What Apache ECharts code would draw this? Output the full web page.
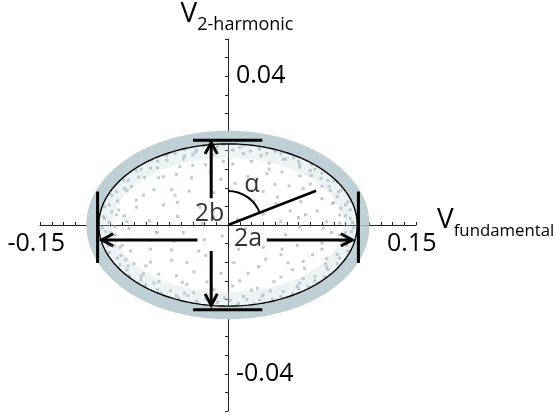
<!DOCTYPE html>
<html>
<head>
<meta charset="utf-8">
<script src="https://cdn.jsdelivr.net/npm/echarts@6/dist/echarts.min.js"></script>
<style>
  html, body { margin: 0; padding: 0; background: #ffffff; }
  #chart { width: 556px; height: 415px; }
</style>
</head>
<body>
<div id="chart"></div>
<script>
// Axis ranges and labelled tick values
const xRange = [-0.16, 0.16];
const yRange = [-0.05, 0.05];
const xTickStep = 0.01;
const yTickStep = 0.005;
const xLabelValues = [-0.15, 0.15];
const yLabelValues = [-0.04, 0.04];

// Fitted ellipse (semi-axes a, b), the dense outer rim of the measured cloud
// and the thinner band of points just inside it
const fitA = 0.110;
const fitB = 0.0218;
const rimA = 0.1150;
const rimB = 0.0236;
const innerA = 0.1060;
const innerB = 0.0205;

// Measured points inside the rim: x in units of 1e-3, y in units of 1e-4
const cloudScaled = [
  [104,18],[95,27],[84,9],[66,28],[45,9],
  [100,54],[89,58],[76,38],[53,38],
  [94,89],[87,93],[80,71],[62,63],[30,29],
  [85,120],[80,104],[64,98],[41,58],
  [74,150],[71,133],[61,132],[52,105],[42,75],
  [60,171],[61,156],[46,143],[40,109],[22,64],
  [45,192],[47,177],[35,166],[33,138],[20,93],
  [27,204],[28,187],[20,171],[17,130],
  [10,208],[13,192],[4,164],[6,112],
  [-9,211],[-13,189],[-4,171],[-6,123],
  [-27,202],[-30,188],[-19,162],[-12,87],
  [-45,192],[-38,178],[-41,157],[-31,127],
  [-60,171],[-60,154],[-44,136],[-33,91],
  [-74,150],[-71,128],[-59,127],[-48,95],[-24,48],
  [-85,120],[-82,103],[-63,95],[-43,61],
  [-95,89],[-86,92],[-78,67],[-55,54],
  [-101,54],[-93,40],[-78,48],[-43,23],
  [-105,18],[-95,27],[-86,9],[-67,12],[-22,4],
  [-104,-18],[-96,-27],[-84,-9],[-61,-19],
  [-102,-55],[-92,-60],[-85,-39],[-66,-41],[-38,-20],
  [-94,-89],[-87,-93],[-83,-70],[-66,-65],[-46,-43],
  [-86,-121],[-80,-104],[-66,-100],[-48,-67],
  [-74,-148],[-72,-131],[-59,-132],[-48,-95],[-20,-40],
  [-60,-173],[-59,-152],[-44,-136],[-35,-101],
  [-44,-190],[-37,-184],[-39,-154],[-29,-126],[-19,-82],
  [-27,-204],[-29,-182],[-18,-153],[-14,-104],
  [-9,-208],[-3,-196],[-12,-174],[-6,-130],
  [9,-211],[13,-192],[4,-164],[5,-101],
  [27,-202],[30,-188],[20,-175],[17,-130],[9,-65],
  [45,-192],[36,-177],[39,-152],[26,-112],
  [60,-171],[61,-156],[45,-140],[32,-92],
  [74,-150],[64,-144],[65,-117],[51,-102],[30,-60],
  [85,-120],[83,-104],[64,-98],[46,-65],
  [95,-89],[84,-90],[80,-65],[59,-55],
  [101,-54],[95,-41],[80,-49],[49,-26],
  [105,-18],[95,-27],[81,-8],[61,-5],
  [8,15],[-5,-30],[15,-10],[-12,22],
  [106,7],[100,25],[104,41],[96,45],[102,62],[93,76],[96,94],[86,104],
  [90,118],[79,125],[80,140],[70,146],[71,163],[61,162],[56,181],[49,177],
  [40,198],[33,192],[26,210],[19,199],[13,214],[4,202],[-4,216],[-12,201],
  [-21,212],[-28,195],[-37,203],[-37,186],[-52,187],[-52,174],[-65,173],[-66,153],
  [-78,146],[-76,129],[-89,121],[-88,98],[-99,80],[-94,65],[-105,49],[-99,35],
  [-106,22],[-101,7],[-107,-8],[-100,-21],[-104,-41],[-97,-56],[-101,-74],[-91,-82],
  [-92,-107],[-85,-110],[-84,-136],[-74,-138],[-70,-161],[-63,-156],[-57,-183],[-49,-177],
  [-42,-197],[-34,-190],[-26,-210],[-19,-199],[-13,-212],[2,-202],[8,-216],[16,-200],
  [22,-211],[29,-191],[38,-200],[47,-179],[55,-185],[59,-164],[68,-164],[74,-138],
  [82,-139],[84,-113],[93,-104],[93,-79],[102,-70],[97,-45],[105,-37],[100,-21],[107,-8],
  [70,110],[-70,-110],[88,-20],[-88,25],[25,-170],[-30,160],[55,-120],[-55,130],
  [90,60],[-90,-55],[35,150],[-35,-160],[95,5],[-96,-5],[10,-150],[-15,140],
  [72,-80],[-72,80],[45,-80],[-45,80],[60,20],[-60,-20],[20,-40],[-25,-70],[30,90]
];

// End caps marking the extent of the axes: [x1, y1, x2, y2]
const capSegments = [
  [-0.0298, 0.0228, 0.0292, 0.0228],
  [-0.0298, -0.0228, 0.0292, -0.0228],
  [-0.111, 0.0090, -0.111, -0.0102],
  [0.111, 0.0090, 0.111, -0.0102]
];

// Dimension arrows: [tailX, tailY, tipX, tipY]
const arrowSegments = [
  [0.033, -0.004, 0.1058, -0.004],
  [-0.026, -0.004, -0.1075, -0.004],
  [-0.0143, 0.0072, -0.0143, 0.0222],
  [-0.0143, -0.0070, -0.0143, -0.0216]
];

// Tilt indicator from the origin: [x0, y0, x1, y1]
const angleSegment = [[0, 0, 0.075, 0.0092]];

// Annotation texts and their anchor points
const noteTexts = ['2b', '2a', '\u03b1'];
const noteX = [-0.0157, 0.0170, 0.0204];
const noteY = [0.0031, -0.0036, 0.0108];

const FONT = '"Open Sans", "DejaVu Sans", sans-serif';
const RIM = '#bfcfd6';
const DOT = '#aebfc7';
const INK = '#000000';
const TXT = '#000000';

// Plot box: the axes cross at the centre of it
const GRID = { left: 40, top: 39, width: 376, height: 372 };

function ellipsePath(a, b, n) {
  const pts = [];
  for (let i = 0; i <= n; i++) {
    const t = (2 * Math.PI * i) / n;
    pts.push([a * Math.cos(t), b * Math.sin(t)]);
  }
  return pts;
}

const cloud = cloudScaled.map(p => [p[0] * 1e-3, p[1] * 1e-4]);
const notes = noteTexts.map((t, i) => ({ name: t, value: [noteX[i], noteY[i]] }));

function near(v, list) {
  return list.some(w => Math.abs(v - w) < 1e-6);
}

function renderCap(params, api) {
  const p0 = api.coord([api.value(0), api.value(1)]);
  const p1 = api.coord([api.value(2), api.value(3)]);
  return {
    type: 'line',
    shape: { x1: p0[0], y1: p0[1], x2: p1[0], y2: p1[1] },
    style: { stroke: INK, lineWidth: 3 }
  };
}

function renderArrow(params, api) {
  const t = api.coord([api.value(0), api.value(1)]);
  const h = api.coord([api.value(2), api.value(3)]);
  const ang = Math.atan2(h[1] - t[1], h[0] - t[0]);
  const L = 13, spread = 28 * Math.PI / 180;
  const a1 = [h[0] - L * Math.cos(ang - spread), h[1] - L * Math.sin(ang - spread)];
  const a2 = [h[0] - L * Math.cos(ang + spread), h[1] - L * Math.sin(ang + spread)];
  return {
    type: 'group',
    children: [
      { type: 'line', shape: { x1: t[0], y1: t[1], x2: h[0], y2: h[1] },
        style: { stroke: INK, lineWidth: 3 } },
      { type: 'polyline', shape: { points: [a1, h, a2] },
        style: { stroke: INK, lineWidth: 3, fill: null, lineJoin: 'miter' } }
    ]
  };
}

function renderAngle(params, api) {
  const o = api.coord([api.value(0), api.value(1)]);
  const e = api.coord([api.value(2), api.value(3)]);
  const ang = Math.atan2(e[1] - o[1], e[0] - o[0]);
  return {
    type: 'group',
    children: [
      { type: 'line', shape: { x1: o[0], y1: o[1], x2: e[0], y2: e[1] },
        style: { stroke: INK, lineWidth: 2.5 } },
      { type: 'arc', shape: { cx: o[0], cy: o[1], r: 34, startAngle: -Math.PI / 2, endAngle: ang, clockwise: true },
        style: { stroke: INK, lineWidth: 2, fill: null } }
    ]
  };
}

const chart = echarts.init(document.getElementById('chart'), null, { renderer: 'canvas' });

chart.setOption({
  animation: false,
  backgroundColor: '#ffffff',
  grid: Object.assign({ containLabel: false, outerBoundsMode: 'none' }, GRID),
  xAxis: {
    type: 'value',
    min: xRange[0], max: xRange[1], interval: xTickStep,
    position: 'bottom',
    offset: -GRID.height / 2,
    axisLine: { onZero: false, lineStyle: { color: '#222', width: 1 } },
    axisTick: { show: true, inside: true, length: 3, lineStyle: { color: '#222', width: 1 } },
    splitLine: { show: false },
    axisLabel: {
      show: true, margin: 6, color: TXT, fontFamily: FONT, fontSize: 25,
      formatter: v => {
        if (!near(v, xLabelValues)) return '';
        return v < 0 ? '{n|' + v.toFixed(2) + '}' : '{p|' + v.toFixed(2) + '}';
      },
      rich: {
        n: { fontFamily: FONT, fontSize: 25, color: TXT, padding: [0, 31, 0, 0] },
        p: { fontFamily: FONT, fontSize: 25, color: TXT, padding: [0, 0, 0, 15] }
      }
    },
    name: '{v|V}{s|fundamental}',
    nameLocation: 'end',
    nameGap: 21,
    nameMoveOverlap: false,
    nameTextStyle: {
      rich: {
        v: { fontFamily: FONT, fontSize: 28, color: TXT, lineHeight: 30, verticalAlign: 'bottom', padding: [0, 0, 6, 0] },
        s: { fontFamily: FONT, fontSize: 16.8, color: TXT, lineHeight: 18, verticalAlign: 'bottom' }
      }
    }
  },
  yAxis: {
    type: 'value',
    min: yRange[0], max: yRange[1], interval: yTickStep,
    position: 'left',
    offset: -GRID.width / 2,
    axisLine: { onZero: false, lineStyle: { color: '#222', width: 1 } },
    axisTick: { show: true, inside: false, length: 3, lineStyle: { color: '#222', width: 1 } },
    splitLine: { show: false },
    axisLabel: {
      show: true, inside: true, margin: 8, color: TXT, fontFamily: FONT, fontSize: 25,
      formatter: v => (near(v, yLabelValues) ? v.toFixed(2) : '')
    },
    name: '{v|V}{s|2-harmonic}',
    nameLocation: 'end',
    nameGap: 5,
    nameMoveOverlap: false,
    nameTextStyle: {
      padding: [0, 0, 0, 18],
      rich: {
        v: { fontFamily: FONT, fontSize: 28, color: TXT, lineHeight: 30, verticalAlign: 'bottom', padding: [0, 0, 6, 0] },
        s: { fontFamily: FONT, fontSize: 18, color: TXT, lineHeight: 18, verticalAlign: 'bottom' }
      }
    }
  },
  series: [
    {
      name: 'inner band', type: 'line', data: ellipsePath(innerA, innerB, 240),
      showSymbol: false, silent: true, z: 2,
      lineStyle: { color: RIM, width: 18, opacity: 0.28 }
    },
    {
      name: 'rim', type: 'line', data: ellipsePath(rimA, rimB, 240),
      showSymbol: false, silent: true, z: 2,
      lineStyle: { color: RIM, width: 13 }
    },
    {
      name: 'cloud', type: 'scatter', data: cloud, symbol: 'rect', symbolSize: 3,
      silent: true, z: 3, itemStyle: { color: DOT }
    },
    {
      name: 'fit', type: 'line', data: ellipsePath(fitA, fitB, 240),
      showSymbol: false, silent: true, z: 4,
      lineStyle: { color: INK, width: 1.4 }
    },
    {
      name: 'caps', type: 'custom', data: capSegments, renderItem: renderCap,
      encode: { x: [0, 2], y: [1, 3] }, silent: true, z: 5
    },
    {
      name: 'arrows', type: 'custom', data: arrowSegments, renderItem: renderArrow,
      encode: { x: [0, 2], y: [1, 3] }, silent: true, z: 5
    },
    {
      name: 'angle', type: 'custom', data: angleSegment, renderItem: renderAngle,
      encode: { x: [0, 2], y: [1, 3] }, silent: true, z: 5
    },
    {
      name: 'notes', type: 'scatter', data: notes, symbolSize: 1, silent: true, z: 6,
      itemStyle: { color: 'rgba(0,0,0,0)' },
      label: {
        show: true, position: 'inside', formatter: '{b}',
        fontFamily: FONT, fontSize: 25, color: TXT
      }
    }
  ]
});
</script>
</body>
</html>
